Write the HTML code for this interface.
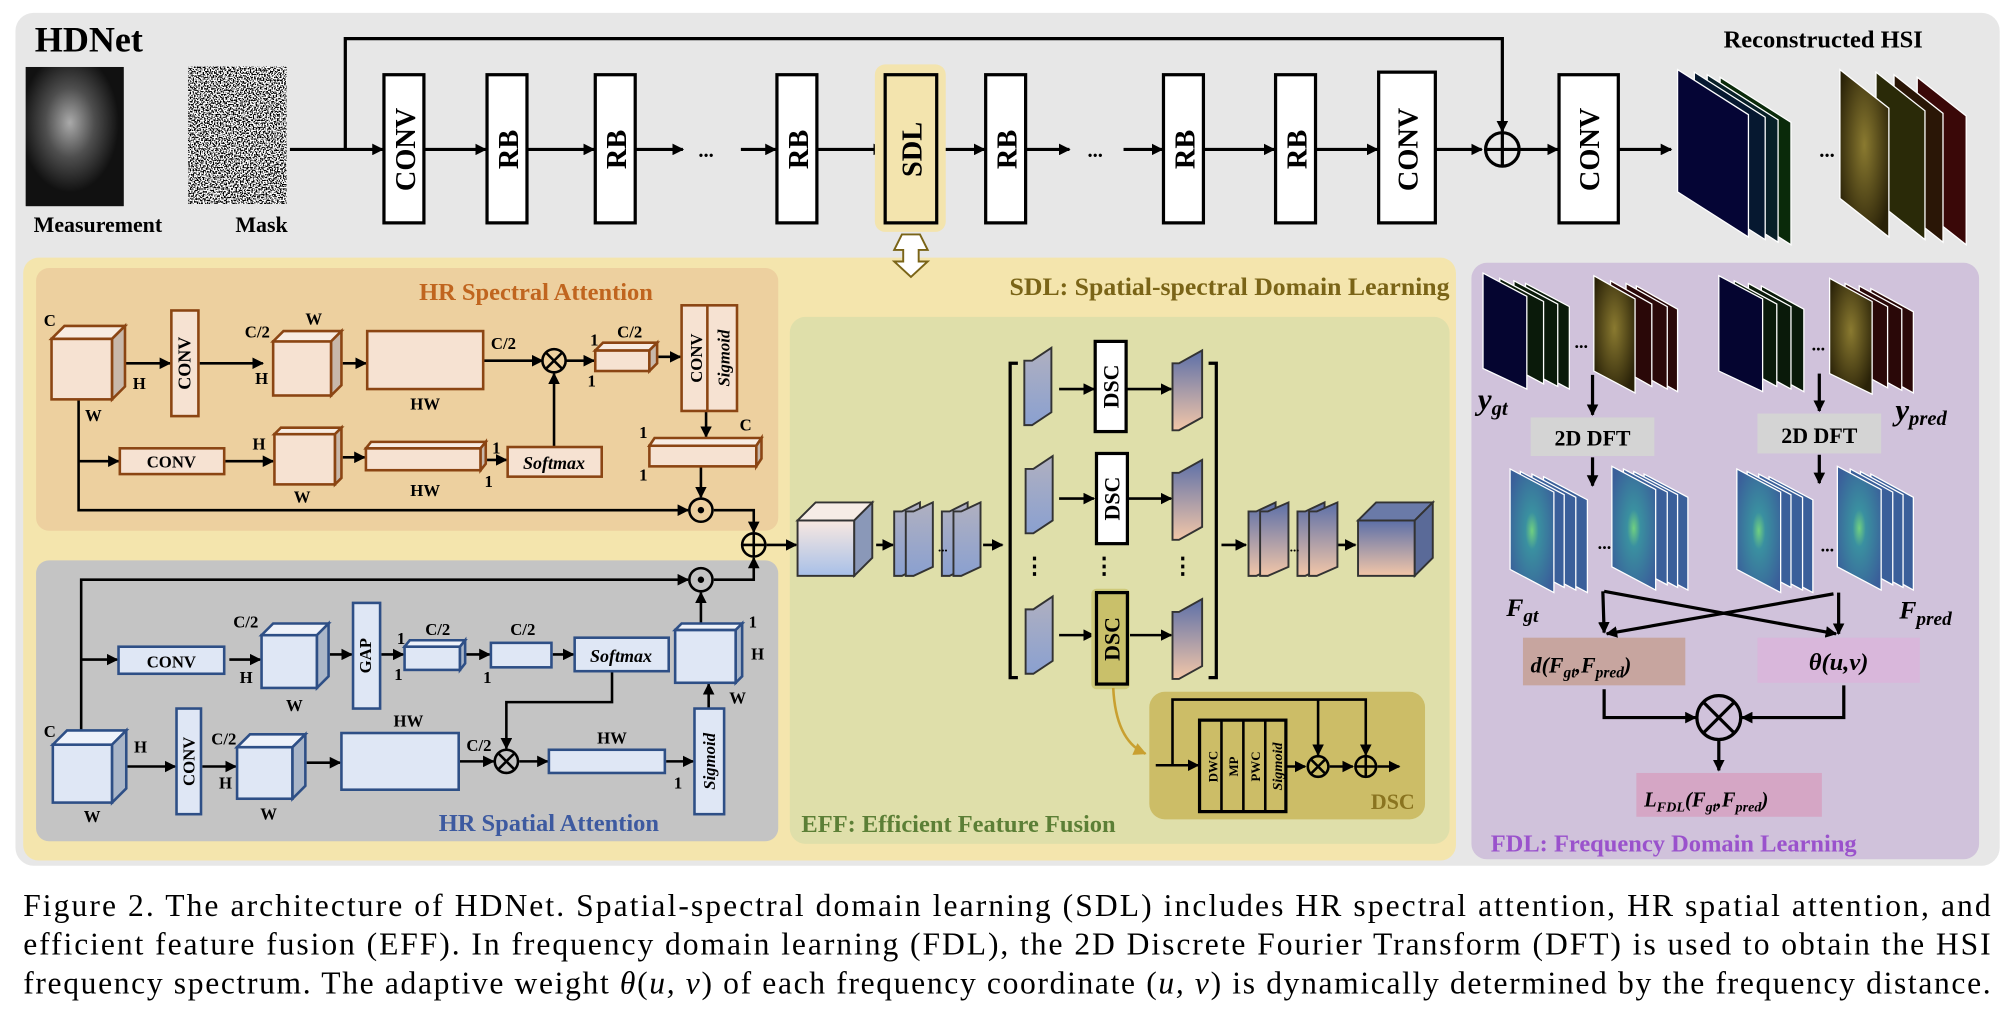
<!DOCTYPE html>
<html><head><meta charset="utf-8"><style>
html,body{margin:0;padding:0;background:#fff;width:2010px;height:1010px;overflow:hidden}
svg{display:block}
text{font-family:"Liberation Serif",serif;font-weight:bold}
text.cap{font-weight:normal}
</style></head><body>
<svg width="2010" height="1010" viewBox="0 0 1560 784" preserveAspectRatio="none" xmlns="http://www.w3.org/2000/svg">
<defs>
<marker id="a" viewBox="0 0 10 10" refX="9" refY="5" markerWidth="9" markerHeight="9" markerUnits="userSpaceOnUse" orient="auto"><path d="M0,0L10,5L0,10z"/></marker>
<marker id="ag" viewBox="0 0 10 10" refX="9" refY="5" markerWidth="10" markerHeight="10" markerUnits="userSpaceOnUse" orient="auto"><path d="M0,0L10,5L0,10z" fill="#c9a030"/></marker>
<filter id="noise" x="0" y="0" width="100%" height="100%"><feTurbulence type="fractalNoise" baseFrequency="0.9" numOctaves="1" seed="3"/><feColorMatrix type="matrix" values="0 0 0 9 -4  0 0 0 9 -4  0 0 0 9 -4  0 0 0 0 1"/></filter>
<radialGradient id="meas" cx="0.45" cy="0.4" r="0.5"><stop offset="0" stop-color="#bbb"/><stop offset="0.5" stop-color="#555"/><stop offset="1" stop-color="#111"/></radialGradient>
<linearGradient id="blueor" x1="0" y1="0" x2="0" y2="1"><stop offset="0" stop-color="#5c6fa8"/><stop offset="1" stop-color="#f2c6a8"/></linearGradient>
<linearGradient id="orblue" x1="0" y1="0" x2="0" y2="1"><stop offset="0" stop-color="#f8e8e0"/><stop offset="1" stop-color="#a8c0e8"/></linearGradient>
<linearGradient id="plate" x1="0" y1="0" x2="0" y2="1"><stop offset="0" stop-color="#b0b0c0"/><stop offset="1" stop-color="#8aa0d0"/></linearGradient>
<radialGradient id="freq" cx="0.5" cy="0.5" r="0.6"><stop offset="0" stop-color="#70d080"/><stop offset="0.25" stop-color="#3a90a0"/><stop offset="1" stop-color="#3a5f9a"/></radialGradient>
<radialGradient id="hsiY" cx="0.5" cy="0.45" r="0.6"><stop offset="0" stop-color="#8a7a30"/><stop offset="1" stop-color="#2a2208"/></radialGradient>
</defs>

<rect x="12" y="10" width="1540" height="662" rx="14" fill="#e7e7e7"/>
<text x="27" y="40" font-size="28">HDNet</text>
<rect x="20" y="52" width="76" height="108" fill="#111"/>
<rect x="20" y="52" width="76" height="108" fill="url(#meas)" opacity="0.9"/>
<rect x="146" y="52" width="76" height="106" fill="#fff" filter="url(#noise)"/>
<text x="76" y="180" font-size="17" text-anchor="middle">Measurement</text>
<text x="203" y="180" font-size="17" text-anchor="middle">Mask</text>

<g stroke="#000" stroke-width="2.5" fill="none">
<line x1="225" y1="116" x2="297" y2="116" marker-end="url(#a)"/>
<polyline points="268,116 268,30 1166,30 1166,102" marker-end="url(#a)"/>
<line x1="329" y1="116" x2="377" y2="116" marker-end="url(#a)"/>
<line x1="409" y1="116" x2="461" y2="116" marker-end="url(#a)"/>
<line x1="493" y1="116" x2="530" y2="116" marker-end="url(#a)"/>
<line x1="575" y1="116" x2="602" y2="116" marker-end="url(#a)"/>
<line x1="634" y1="116" x2="686" y2="116" marker-end="url(#a)"/>
<line x1="727" y1="116" x2="764" y2="116" marker-end="url(#a)"/>
<line x1="796" y1="116" x2="830" y2="116" marker-end="url(#a)"/>
<line x1="872" y1="116" x2="902" y2="116" marker-end="url(#a)"/>
<line x1="934" y1="116" x2="989" y2="116" marker-end="url(#a)"/>
<line x1="1021" y1="116" x2="1069" y2="116" marker-end="url(#a)"/>
<line x1="1114" y1="116" x2="1150" y2="116" marker-end="url(#a)"/>
<line x1="1180" y1="116" x2="1209" y2="116" marker-end="url(#a)"/>
<line x1="1256" y1="116" x2="1297" y2="116" marker-end="url(#a)"/>
</g>
<rect x="679" y="50" width="55" height="130" rx="8" fill="#f3e4ae"/>
<g stroke="#000" stroke-width="2.5" fill="#fff">
<rect x="298" y="58" width="31" height="115"/>
<rect x="378" y="58" width="31" height="115"/>
<rect x="462" y="58" width="31" height="115"/>
<rect x="603" y="58" width="31" height="115"/>
<rect x="687" y="58" width="40" height="115" fill="#f3e4ae"/>
<rect x="765" y="58" width="31" height="115"/>
<rect x="903" y="58" width="31" height="115"/>
<rect x="990" y="58" width="31" height="115"/>
<rect x="1070" y="56" width="44" height="117"/>
<rect x="1210" y="58" width="46" height="115"/>
<circle cx="1166" cy="116" r="13" fill="none"/>
<line x1="1153" y1="116" x2="1179" y2="116"/><line x1="1166" y1="103" x2="1166" y2="129"/>
</g>
<g font-size="22" text-anchor="middle">
<text transform="translate(314,116) rotate(-90)" dy="8">CONV</text>
<text transform="translate(394,116) rotate(-90)" dy="8">RB</text>
<text transform="translate(478,116) rotate(-90)" dy="8">RB</text>
<text transform="translate(619,116) rotate(-90)" dy="8">RB</text>
<text transform="translate(707,116) rotate(-90)" dy="8">SDL</text>
<text transform="translate(781,116) rotate(-90)" dy="8">RB</text>
<text transform="translate(919,116) rotate(-90)" dy="8">RB</text>
<text transform="translate(1006,116) rotate(-90)" dy="8">RB</text>
<text transform="translate(1092,116) rotate(-90)" dy="8">CONV</text>
<text transform="translate(1233,116) rotate(-90)" dy="8">CONV</text>
</g>
<text x="548" y="122" font-size="16" text-anchor="middle">...</text>
<text x="850" y="122" font-size="16" text-anchor="middle">...</text>
<text x="1415" y="37" font-size="19" text-anchor="middle">Reconstructed HSI</text>
<g stroke="#fff" stroke-width="1">
<polygon points="1335,60 1390,95 1390,190 1335,155" fill="#0a2a0a"/>
<polygon points="1325,58 1380,93 1380,188 1325,153" fill="#082028"/>
<polygon points="1315,56 1370,91 1370,186 1315,151" fill="#061830"/>
<polygon points="1302,54 1357,89 1357,184 1302,149" fill="#050535"/>
<polygon points="1488,60 1526,90 1526,190 1488,160" fill="#3a0808"/>
<polygon points="1470,58 1508,88 1508,188 1470,158" fill="#2a1606"/>
<polygon points="1456,56 1494,86 1494,186 1456,156" fill="#2a2a08"/>
<polygon points="1428,54 1466,84 1466,184 1428,154" fill="url(#hsiY)"/>
</g>
<text x="1412" y="122" font-size="16">...</text>

<rect x="18" y="200" width="1112" height="468" rx="12" fill="#f4e5ad"/>
<path d="M700,182 L694,194 L701,194 L701,203 L694,203 L707,215 L720,203 L713,203 L713,194 L720,194 L714,182 Z" fill="#fff" stroke="#7a6417" stroke-width="1.5"/>
<text x="1125" y="229" font-size="20" text-anchor="end" fill="#7a6417">SDL: Spatial-spectral Domain Learning</text>
<rect x="28" y="208" width="576" height="204" rx="10" fill="#edd09f"/>
<text x="416" y="233" font-size="19" text-anchor="middle" fill="#c0651f">HR Spectral Attention</text>
<rect x="28" y="435" width="576" height="218" rx="10" fill="#c4c4c4"/>
<text x="426" y="645" font-size="19" text-anchor="middle" fill="#3d5aa0">HR Spatial Attention</text>
<rect x="613" y="246" width="512" height="409" rx="12" fill="#dfdfaa"/>
<text x="622" y="646" font-size="19" fill="#5c7f36">EFF: Efficient Feature Fusion</text>

<g stroke="#000" stroke-width="2" fill="none">
<line x1="90" y1="282" x2="132" y2="282" marker-end="url(#a)"/>
<line x1="155" y1="282" x2="204" y2="282" marker-end="url(#a)"/>
<line x1="266" y1="282" x2="284" y2="282" marker-end="url(#a)"/>
<line x1="375" y1="280" x2="421" y2="280" marker-end="url(#a)"/>
<line x1="439" y1="280" x2="461" y2="280" marker-end="url(#a)"/>
<line x1="511" y1="277" x2="528" y2="277" marker-end="url(#a)"/>
<line x1="548" y1="319" x2="548" y2="339" marker-end="url(#a)"/>
<line x1="544" y1="362" x2="544" y2="386" marker-end="url(#a)"/>
<polyline points="61,310 61,396 534,396" marker-end="url(#a)"/>
<line x1="61" y1="358" x2="92" y2="358" marker-end="url(#a)"/>
<line x1="175" y1="358" x2="212" y2="358" marker-end="url(#a)"/>
<line x1="266" y1="355" x2="283" y2="355" marker-end="url(#a)"/>
<line x1="378" y1="357" x2="393" y2="357" marker-end="url(#a)"/>
<line x1="430" y1="347" x2="430" y2="290" marker-end="url(#a)"/>
<polyline points="554,396 585,396 585,413" marker-end="url(#a)"/>
<line x1="595" y1="423" x2="618" y2="423" marker-end="url(#a)"/>
<polyline points="63,567 63,450 534,450" marker-end="url(#a)"/>
<polyline points="554,450 585,450 585,433" marker-end="url(#a)"/>
<line x1="63" y1="512" x2="91" y2="512" marker-end="url(#a)"/>
<line x1="178" y1="512" x2="202" y2="512" marker-end="url(#a)"/>
<line x1="256" y1="508" x2="273" y2="508" marker-end="url(#a)"/>
<line x1="296" y1="508" x2="313" y2="508" marker-end="url(#a)"/>
<line x1="362" y1="508" x2="380" y2="508" marker-end="url(#a)"/>
<line x1="429" y1="508" x2="445" y2="508" marker-end="url(#a)"/>
<polyline points="475,521 475,545 393,545 393,581" marker-end="url(#a)"/>
<line x1="544" y1="486" x2="544" y2="460" marker-end="url(#a)"/>
<line x1="98" y1="595" x2="136" y2="595" marker-end="url(#a)"/>
<line x1="157" y1="595" x2="183" y2="595" marker-end="url(#a)"/>
<line x1="238" y1="592" x2="264" y2="592" marker-end="url(#a)"/>
<line x1="357" y1="591" x2="383" y2="591" marker-end="url(#a)"/>
<line x1="403" y1="591" x2="425" y2="591" marker-end="url(#a)"/>
<line x1="517" y1="591" x2="538" y2="591" marker-end="url(#a)"/>
<line x1="550" y1="550" x2="550" y2="531" marker-end="url(#a)"/>
</g>
<g stroke="#8b4513" stroke-width="2" fill="#f6e2d2">
<rect x="40" y="263" width="47" height="47"/><polygon points="40,263 50,253 97,253 87,263" fill="#f8ece2"/><polygon points="87,263 97,253 97,300 87,310" fill="#c8b8aa"/>
<rect x="212" y="265" width="45" height="42"/><polygon points="212,265 220,257 265,257 257,265" fill="#f8ece2"/><polygon points="257,265 265,257 265,299 257,307" fill="#c8b8aa"/>
<rect x="285" y="257" width="90" height="45"/>
<rect x="462" y="272" width="42" height="16"/><polygon points="462,272 468,266 510,266 504,272" fill="#f8ece2"/><polygon points="504,272 510,266 510,282 504,288" fill="#c8b8aa"/>
<rect x="529" y="237" width="43" height="82"/><line x1="549" y1="237" x2="549" y2="319"/>
<rect x="504" y="346" width="83" height="16"/><polygon points="504,346 508,340 591,340 587,346" fill="#f8ece2"/><polygon points="587,346 591,340 591,356 587,362" fill="#c8b8aa"/>
<rect x="133" y="241" width="21" height="82"/>
<rect x="93" y="348" width="81" height="20"/>
<rect x="213" y="337" width="47" height="39"/><polygon points="213,337 218,332 265,332 260,337" fill="#f8ece2"/><polygon points="260,337 265,332 265,371 260,376" fill="#c8b8aa"/>
<rect x="284" y="348" width="89" height="17"/><polygon points="284,348 288,343 377,343 373,348" fill="#f8ece2"/><polygon points="373,348 377,343 377,360 373,365" fill="#c8b8aa"/>
<rect x="394" y="347" width="73" height="23"/>
</g>
<g stroke="#2e4f86" stroke-width="2" fill="#dfe7f5">
<rect x="92" y="502" width="82" height="21"/>
<rect x="203" y="493" width="43" height="41"/><polygon points="203,493 212,484 255,484 246,493" fill="#eef2fa"/><polygon points="246,493 255,484 255,525 246,534" fill="#aab6c8"/>
<rect x="274" y="468" width="21" height="82"/>
<rect x="314" y="502" width="43" height="18"/><polygon points="314,502 318,497 361,497 357,502" fill="#eef2fa"/><polygon points="357,502 361,497 361,515 357,520" fill="#aab6c8"/>
<rect x="381" y="499" width="47" height="19"/>
<rect x="446" y="495" width="73" height="26"/>
<rect x="524" y="489" width="47" height="41"/><polygon points="524,489 529,484 576,484 571,489" fill="#eef2fa"/><polygon points="571,489 576,484 576,525 571,530" fill="#aab6c8"/>
<rect x="41" y="578" width="46" height="45"/><polygon points="41,578 52,567 98,567 87,578" fill="#eef2fa"/><polygon points="87,578 98,567 98,612 87,623" fill="#aab6c8"/>
<rect x="137" y="550" width="19" height="82"/>
<rect x="184" y="580" width="43" height="40"/><polygon points="184,580 194,570 237,570 227,580" fill="#eef2fa"/><polygon points="227,580 237,570 237,610 227,620" fill="#aab6c8"/>
<rect x="265" y="569" width="91" height="44"/>
<rect x="426" y="582" width="90" height="18"/>
<rect x="539" y="550" width="23" height="82"/>
</g>
<g stroke="#000" stroke-width="2" fill="none">
<circle cx="430" cy="280" r="9"/><path d="M424,274L436,286M436,274L424,286"/>
<circle cx="544" cy="396" r="9"/>
<circle cx="585" cy="423" r="9"/><path d="M576,423H594M585,414V432"/>
<circle cx="544" cy="450" r="9"/>
<circle cx="393" cy="591" r="9"/><path d="M387,585L399,597M399,585L387,597"/>
</g>
<circle cx="544" cy="396" r="2.5"/><circle cx="544" cy="450" r="2.5"/>
<g font-size="13">
<text x="34" y="253">C</text><text x="103" y="302">H</text><text x="66" y="327">W</text>
<text transform="translate(148,282) rotate(-90)" text-anchor="middle" font-size="14">CONV</text>
<text x="190" y="262">C/2</text><text x="237" y="252">W</text><text x="198" y="298">H</text>
<text x="330" y="318" text-anchor="middle">HW</text><text x="381" y="271">C/2</text>
<text x="458" y="268">1</text><text x="479" y="262">C/2</text><text x="456" y="300">1</text>
<text transform="translate(545,278) rotate(-90)" text-anchor="middle" font-size="13">CONV</text>
<text transform="translate(566,278) rotate(-90)" text-anchor="middle" font-size="13" font-style="italic">Sigmoid</text>
<text x="496" y="340">1</text><text x="574" y="334">C</text><text x="496" y="373">1</text>
<text x="133" y="363" text-anchor="middle">CONV</text>
<text x="196" y="349">H</text><text x="228" y="390">W</text>
<text x="330" y="385" text-anchor="middle">HW</text><text x="382" y="352">1</text><text x="376" y="378">1</text>
<text x="430" y="364" text-anchor="middle" font-style="italic" font-size="14">Softmax</text>
<text x="133" y="518" text-anchor="middle">CONV</text>
<text x="181" y="487">C/2</text><text x="186" y="530">H</text><text x="222" y="552">W</text>
<text transform="translate(288,509) rotate(-90)" text-anchor="middle" font-size="13">GAP</text>
<text x="308" y="500">1</text><text x="330" y="493">C/2</text><text x="306" y="528">1</text>
<text x="396" y="493">C/2</text><text x="375" y="530">1</text>
<text x="482" y="514" text-anchor="middle" font-style="italic" font-size="14">Softmax</text>
<text x="581" y="487">1</text><text x="583" y="512">H</text><text x="566" y="546">W</text>
<text x="34" y="572">C</text><text x="104" y="584">H</text><text x="65" y="638">W</text>
<text transform="translate(151,591) rotate(-90)" text-anchor="middle" font-size="13">CONV</text>
<text x="164" y="578">C/2</text><text x="170" y="612">H</text><text x="202" y="636">W</text>
<text x="317" y="564" text-anchor="middle">HW</text><text x="362" y="583">C/2</text>
<text x="475" y="577" text-anchor="middle">HW</text><text x="523" y="612">1</text>
<text transform="translate(555,591) rotate(-90)" text-anchor="middle" font-size="13" font-style="italic">Sigmoid</text>
</g>

<g stroke="#000" stroke-width="2" fill="none">
<line x1="680" y1="423" x2="693" y2="423" marker-end="url(#a)"/>
<line x1="763" y1="423" x2="778" y2="423" marker-end="url(#a)"/>
<line x1="822" y1="302" x2="849" y2="302" marker-end="url(#a)"/>
<line x1="822" y1="387" x2="849" y2="387" marker-end="url(#a)"/>
<line x1="822" y1="493" x2="849" y2="493" marker-end="url(#a)"/>
<line x1="875" y1="302" x2="909" y2="302" marker-end="url(#a)"/>
<line x1="875" y1="387" x2="909" y2="387" marker-end="url(#a)"/>
<line x1="875" y1="493" x2="909" y2="493" marker-end="url(#a)"/>
<line x1="948" y1="423" x2="967" y2="423" marker-end="url(#a)"/>
<line x1="1033" y1="423" x2="1052" y2="423" marker-end="url(#a)"/>
<polyline points="790,282 784,282 784,526 790,526" stroke-width="2.5"/>
<polyline points="938,282 944,282 944,526 938,526" stroke-width="2.5"/>
</g>
<g stroke="#333" stroke-width="1.5">
<rect x="619" y="404" width="44" height="43" fill="url(#orblue)"/><polygon points="619,404 633,390 677,390 663,404" fill="#f6ece6"/><polygon points="663,404 677,390 677,433 663,447" fill="#8a98b8"/>
<g fill="url(#plate)">
<polygon points="694,397 700,397 714,390 714,440 700,447 694,447"/><polygon points="703,397 709,397 724,390 724,440 709,447 703,447"/>
<polygon points="731,397 737,397 751,390 751,440 737,447 731,447"/><polygon points="740,397 746,397 761,390 761,440 746,447 740,447"/>
<polygon points="795,280 801,280 816,270 816,320 801,330 795,330"/>
<polygon points="796,364 802,364 817,354 817,404 802,414 796,414"/>
<polygon points="796,473 802,473 817,463 817,513 802,523 796,523"/>
</g>
<g fill="url(#blueor)">
<polygon points="910,282 915,282 933,272 933,324 915,334 910,334"/>
<polygon points="910,367 915,367 933,357 933,409 915,419 910,419"/>
<polygon points="910,475 915,475 933,465 933,517 915,527 910,527"/>
<polygon points="969,397 975,397 990,390 990,440 975,447 969,447"/><polygon points="978,397 984,397 1000,390 1000,440 984,447 978,447"/>
<polygon points="1007,397 1013,397 1028,390 1028,440 1013,447 1007,447"/><polygon points="1016,397 1022,397 1038,390 1038,440 1022,447 1016,447"/>
<rect x="1054" y="404" width="44" height="43"/><polygon points="1054,404 1068,390 1112,390 1098,404" fill="#6a7aa8"/><polygon points="1098,404 1112,390 1112,433 1098,447" fill="#5a6a98"/>
</g>
</g>
<rect x="847" y="457" width="30" height="78" rx="4" fill="#cfca7a"/>
<g stroke="#000" stroke-width="2.5" fill="#fff">
<rect x="850" y="265" width="24" height="70"/>
<rect x="851" y="352" width="24" height="70"/>
<rect x="851" y="460" width="24" height="71" fill="#c9c06a"/>
</g>
<g font-size="17" text-anchor="middle">
<text transform="translate(862,300) rotate(-90)" dy="6">DSC</text>
<text transform="translate(863,387) rotate(-90)" dy="6">DSC</text>
<text transform="translate(863,496) rotate(-90)" dy="6">DSC</text>
</g>
<g font-size="18" text-anchor="middle"><text x="803" y="445">⋮</text><text x="857" y="445">⋮</text><text x="918" y="445">⋮</text></g>
<text x="728" y="428" font-size="10">...</text><text x="1001" y="428" font-size="10">...</text>
<path d="M864,534 Q866,575 889,585" stroke="#c9a030" stroke-width="2" fill="none" marker-end="url(#ag)"/>
<rect x="892" y="537" width="214" height="99" rx="12" fill="#ccbd67"/>
<g stroke="#000" stroke-width="2" fill="none">
<line x1="897" y1="594" x2="930" y2="594" marker-end="url(#a)"/>
<polyline points="910,594 910,543 1060,543 1060,586" marker-end="url(#a)"/>
<line x1="1023" y1="543" x2="1023" y2="586" marker-end="url(#a)"/>
<line x1="999" y1="595" x2="1013" y2="595" marker-end="url(#a)"/>
<line x1="1032" y1="595" x2="1050" y2="595" marker-end="url(#a)"/>
<line x1="1069" y1="595" x2="1086" y2="595" marker-end="url(#a)"/>
<rect x="931" y="559" width="67" height="71" fill="#ccbd67" stroke-width="2.5"/>
<line x1="948" y1="559" x2="948" y2="630"/><line x1="965" y1="559" x2="965" y2="630"/><line x1="982" y1="559" x2="982" y2="630"/>
<circle cx="1023" cy="595" r="8"/><path d="M1017,589L1029,601M1029,589L1017,601"/>
<circle cx="1060" cy="595" r="8"/><path d="M1052,595H1068M1060,587V603"/>
</g>
<g font-size="10" text-anchor="middle">
<text transform="translate(941,595) rotate(-90)" dy="4">DWC</text>
<text transform="translate(957,595) rotate(-90)" dy="4">MP</text>
<text transform="translate(974,595) rotate(-90)" dy="4">PWC</text>
<text transform="translate(991,595) rotate(-90)" dy="4" font-style="italic" font-size="11">Sigmoid</text>
</g>
<text x="1098" y="628" font-size="17" text-anchor="end" fill="#8a7420">DSC</text>

<rect x="1142" y="204" width="394" height="463" rx="12" fill="#d0c2db"/>
<g stroke="#fff" stroke-width="1">
<g fill="#0a1a0a"><polygon points="1184,220 1218,238 1218,302 1184,284"/><polygon points="1175,218 1209,236 1209,300 1175,282"/><polygon points="1164,216 1198,234 1198,298 1164,280"/></g>
<polygon points="1151,212 1185,230 1185,302 1151,286" fill="#050530"/>
<g fill="#2a0808"><polygon points="1270,222 1302,240 1302,304 1270,286"/><polygon points="1262,220 1294,238 1294,302 1262,284"/><polygon points="1250,218 1282,236 1282,300 1250,282"/></g>
<polygon points="1237,214 1269,232 1269,305 1237,288" fill="url(#hsiY)"/>
<g fill="#0a1a0a"><polygon points="1367,222 1400,240 1400,304 1367,286"/><polygon points="1357,220 1390,238 1390,302 1357,284"/><polygon points="1346,218 1379,236 1379,300 1346,282"/></g>
<polygon points="1334,214 1368,232 1368,304 1334,288" fill="#050530"/>
<g fill="#2a0808"><polygon points="1452,224 1485,242 1485,305 1452,287"/><polygon points="1443,222 1476,240 1476,303 1443,285"/><polygon points="1432,220 1465,238 1465,301 1432,283"/></g>
<polygon points="1420,216 1453,234 1453,306 1420,290" fill="url(#hsiY)"/>
<g fill="#3a5f9a">
<polygon points="1198,370 1232,388 1232,460 1198,442"/><polygon points="1189,368 1223,386 1223,458 1189,440"/><polygon points="1180,366 1214,384 1214,456 1180,438"/>
<polygon points="1276,368 1310,386 1310,458 1276,440"/><polygon points="1268,366 1302,384 1302,456 1268,438"/><polygon points="1260,364 1294,382 1294,454 1260,436"/>
<polygon points="1373,370 1407,388 1407,460 1373,442"/><polygon points="1365,368 1399,386 1399,458 1365,440"/><polygon points="1356,366 1390,384 1390,456 1356,438"/>
<polygon points="1452,368 1485,386 1485,458 1452,440"/><polygon points="1444,366 1477,384 1477,456 1444,438"/><polygon points="1436,364 1469,382 1469,454 1436,436"/>
</g>
<g fill="url(#freq)">
<polygon points="1172,364 1206,382 1206,460 1172,442"/><polygon points="1251,362 1285,380 1285,458 1251,440"/>
<polygon points="1348,364 1382,382 1382,460 1348,442"/><polygon points="1426,362 1460,380 1460,458 1426,440"/>
</g>
</g>
<g font-size="14"><text x="1222" y="270">...</text><text x="1406" y="272">...</text><text x="1240" y="426">...</text><text x="1413" y="428">...</text></g>
<rect x="1188" y="324" width="96" height="30" fill="#d4d4d4"/>
<rect x="1364" y="321" width="96" height="31" fill="#d4d4d4"/>
<text x="1236" y="346" font-size="17" text-anchor="middle">2D DFT</text>
<text x="1412" y="344" font-size="17" text-anchor="middle">2D DFT</text>
<rect x="1182" y="495" width="126" height="37" fill="#c7a59f"/>
<rect x="1364" y="495" width="126" height="35" fill="#d9b7db"/>
<rect x="1270" y="600" width="144" height="34" fill="#d5a6c5"/>
<g stroke="#000" stroke-width="2.5" fill="none">
<line x1="1236" y1="291" x2="1236" y2="322" marker-end="url(#a)"/>
<line x1="1412" y1="290" x2="1412" y2="319" marker-end="url(#a)"/>
<line x1="1236" y1="355" x2="1236" y2="377" marker-end="url(#a)"/>
<line x1="1412" y1="353" x2="1412" y2="375" marker-end="url(#a)"/>
<line x1="1244" y1="459" x2="1245" y2="491" marker-end="url(#a)"/>
<line x1="1427" y1="460" x2="1427" y2="492" marker-end="url(#a)"/>
<line x1="1245" y1="459" x2="1425" y2="492" marker-end="url(#a)"/>
<line x1="1423" y1="461" x2="1247" y2="492" marker-end="url(#a)"/>
<polyline points="1245,535 1245,557 1316,557" marker-end="url(#a)"/>
<polyline points="1431,532 1431,557 1352,557" marker-end="url(#a)"/>
<line x1="1334" y1="574" x2="1334" y2="598" marker-end="url(#a)"/>
<circle cx="1334" cy="557" r="17"/><path d="M1322,545L1346,569M1346,545L1322,569"/>
</g>
<g font-family="'DejaVu Serif',serif" font-style="italic" font-weight="bold">
<text x="1147" y="318" font-size="24">y<tspan font-size="16" dy="4">gt</tspan></text>
<text x="1471" y="326" font-size="24">y<tspan font-size="16" dy="4">pred</tspan></text>
<text x="1169" y="478" font-size="20">F<tspan font-size="15" dy="5">gt</tspan></text>
<text x="1474" y="480" font-size="20">F<tspan font-size="15" dy="5">pred</tspan></text>
<text x="1188" y="522" font-size="17">d(F<tspan font-size="12" dy="4">gt</tspan><tspan dy="-4">,F</tspan><tspan font-size="12" dy="4">pred</tspan><tspan dy="-4">)</tspan></text>
<text x="1427" y="520" font-size="19" text-anchor="middle">θ(u,v)</text>
<text x="1276" y="626" font-size="16">L<tspan font-size="11" dy="4">FDL</tspan><tspan dy="-4">(F</tspan><tspan font-size="11" dy="4">gt</tspan><tspan dy="-4">,F</tspan><tspan font-size="11" dy="4">pred</tspan><tspan dy="-4">)</tspan></text>
</g>
<text x="1157" y="661" font-size="19" fill="#9a52cc" font-family="'DejaVu Serif',serif">FDL: Frequency Domain Learning</text>

<g font-size="24.5">
<text class="cap" x="18" y="711" textLength="1527" lengthAdjust="spacing" style="font-weight:normal">Figure 2. The architecture of HDNet. Spatial-spectral domain learning (SDL) includes HR spectral attention, HR spatial attention, and</text>
<text class="cap" x="18" y="741" textLength="1527" lengthAdjust="spacing" style="font-weight:normal">efficient feature fusion (EFF). In frequency domain learning (FDL), the 2D Discrete Fourier Transform (DFT) is used to obtain the HSI</text>
<text class="cap" x="18" y="771" textLength="1527" lengthAdjust="spacing" style="font-weight:normal">frequency spectrum. The adaptive weight <tspan font-style="italic">θ</tspan>(<tspan font-style="italic">u, v</tspan>) of each frequency coordinate (<tspan font-style="italic">u, v</tspan>) is dynamically determined by the frequency distance.</text>
</g>
</svg>
</body></html>
